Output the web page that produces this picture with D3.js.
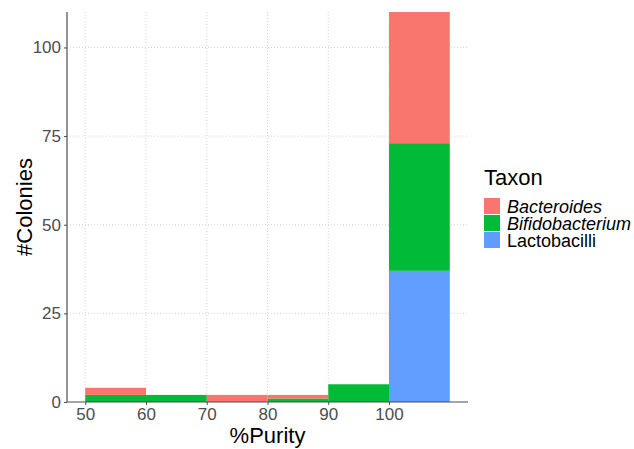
<!DOCTYPE html>
<html>
<head>
<meta charset="utf-8">
<script src="https://cdn.jsdelivr.net/npm/d3@7"></script>
<style>
  html, body { margin: 0; padding: 0; background: #fff; }
  svg { display: block; font-family: "Liberation Sans", Arial, sans-serif; }
</style>
</head>
<body>
<svg id="chart" width="634" height="449"></svg>
<script>
// ---- data ----
const binStarts = [50, 60, 70, 80, 90, 100];
const binWidth = 10;
const taxa = ["Bacteroides", "Bifidobacterium", "Lactobacilli"];
const taxaColors = ["#F8766D", "#00BA38", "#619CFF"];
const taxaItalic = [true, true, false];
const bacteroides = [2, 0, 2, 1, 0, 37];
const bifidobacterium = [2, 2, 0, 1, 5, 36];
const lactobacilli = [0, 0, 0, 0, 0, 37];
const xTicks = [50, 60, 70, 80, 90, 100];
const yTicks = [0, 25, 50, 75, 100];

// ---- layout ----
const svg = d3.select("#chart");
const pLeft = 67, pRight = 468, pTop = 12, pBottom = 402;

const x = d3.scaleLinear().domain([47, 113]).range([pLeft, pRight]);
const y = d3.scaleLinear().domain([0, 110]).range([pBottom, pTop]);

// grid
const grid = svg.append("g");
grid.selectAll("line.v").data(xTicks).join("line")
  .attr("x1", d => x(d)).attr("x2", d => x(d))
  .attr("y1", pTop).attr("y2", pBottom)
  .attr("stroke", "#d4d4d4").attr("stroke-width", 1).attr("stroke-dasharray", "1,2");
grid.selectAll("line.h").data(yTicks.filter(d => d > 0)).join("line")
  .attr("x1", pLeft).attr("x2", pRight)
  .attr("y1", d => y(d)).attr("y2", d => y(d))
  .attr("stroke", "#d4d4d4").attr("stroke-width", 1).attr("stroke-dasharray", "1,2");

// stacked bars (stack order: Lactobacilli bottom, Bifidobacterium, Bacteroides top)
const rows = binStarts.map((b, i) => ({
  bin: b,
  Bacteroides: bacteroides[i],
  Bifidobacterium: bifidobacterium[i],
  Lactobacilli: lactobacilli[i]
}));
const stack = d3.stack().keys(["Lactobacilli", "Bifidobacterium", "Bacteroides"]);
const series = stack(rows);
const color = d3.scaleOrdinal().domain(taxa).range(taxaColors);

svg.append("g").selectAll("g").data(series).join("g")
  .attr("fill", s => color(s.key))
  .selectAll("rect").data(s => s.filter(d => d[1] - d[0] > 0)).join("rect")
  .attr("x", d => x(d.data.bin))
  .attr("width", d => x(d.data.bin + binWidth) - x(d.data.bin))
  .attr("y", d => y(d[1]))
  .attr("height", d => y(d[0]) - y(d[1]));

// axes
const xAxis = svg.append("g").attr("transform", `translate(0,${pBottom})`)
  .call(d3.axisBottom(x).tickValues(xTicks).tickSize(3).tickSizeOuter(0).tickPadding(3));
const yAxis = svg.append("g").attr("transform", `translate(${pLeft},0)`)
  .call(d3.axisLeft(y).tickValues(yTicks).tickSize(3).tickSizeOuter(0).tickPadding(3));
[xAxis, yAxis].forEach(a => {
  a.select(".domain").attr("stroke", "#4d4d4d").attr("stroke-width", 1.2);
  a.selectAll(".tick line").attr("stroke", "#4d4d4d").attr("stroke-width", 1);
  a.selectAll(".tick text").attr("fill", "#4d4d4d").attr("font-size", 17)
    .attr("font-family", "Liberation Sans, Arial, sans-serif");
});
xAxis.select(".domain").attr("d", `M${pLeft},0H${pRight}`);
yAxis.select(".domain").attr("d", `M0,${pBottom}V${pTop}`);

// axis titles
svg.append("text").attr("x", (pLeft + pRight) / 2).attr("y", 443)
  .attr("text-anchor", "middle").attr("font-size", 22).attr("fill", "#000")
  .text("%Purity");
svg.append("text")
  .attr("transform", `translate(32,${(pTop + pBottom) / 2}) rotate(-90)`)
  .attr("text-anchor", "middle").attr("font-size", 22).attr("fill", "#000")
  .text("#Colonies");

// legend
const lg = svg.append("g").attr("transform", "translate(484,0)");
lg.append("text").attr("x", 0).attr("y", 185).attr("font-size", 22).attr("fill", "#000").text("Taxon");
const items = lg.selectAll("g.item").data(taxa).join("g")
  .attr("transform", (d, i) => `translate(0,${198 + i * 17})`);
items.append("rect").attr("x", 0).attr("y", 0).attr("width", 16).attr("height", 16)
  .attr("fill", (d, i) => taxaColors[i]);
items.append("text").attr("x", 23).attr("y", 15).attr("font-size", 18).attr("fill", "#000")
  .attr("font-style", (d, i) => taxaItalic[i] ? "italic" : "normal")
  .text(d => d);
</script>
</body>
</html>
